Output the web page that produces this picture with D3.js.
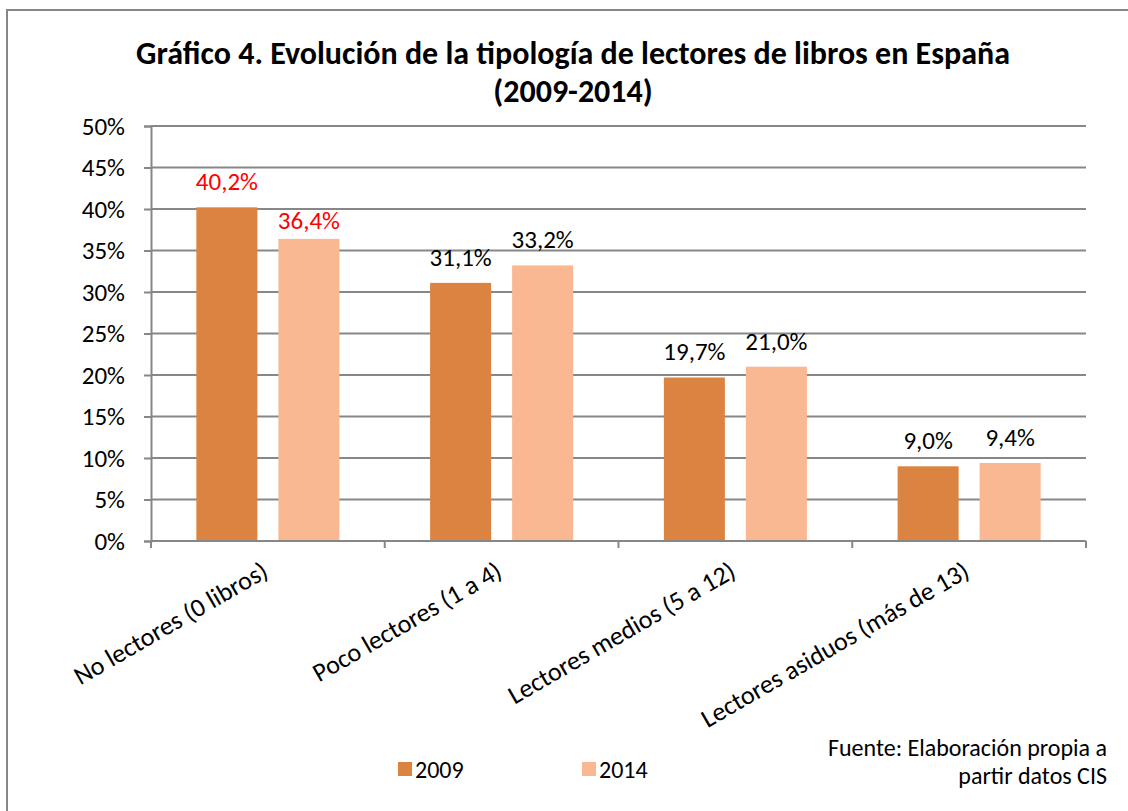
<!DOCTYPE html>
<html>
<head>
<meta charset="utf-8">
<script src="https://cdn.jsdelivr.net/npm/d3@7"></script>
<style>
  html, body { margin: 0; padding: 0; background: white; }
  svg { display: block; }
</style>
</head>
<body>
<div id="chart"></div>
<script>
// data
const categories = [
  "No lectores (0 libros)",
  "Poco lectores (1 a 4)",
  "Lectores medios (5 a 12)",
  "Lectores asiduos (más de 13)"
];
const years = ["2009", "2014"];
const values2009 = [40.2, 31.1, 19.7, 9.0];
const values2014 = [36.4, 33.2, 21.0, 9.4];
const yTicks = [0, 5, 10, 15, 20, 25, 30, 35, 40, 45, 50];
const titleLines = [
  "Gráfico 4. Evolución de la tipología de lectores de libros en España",
  "(2009-2014)"
];
const sourceLines = ["Fuente: Elaboración propia a", "partir datos CIS"];

const colours = { "2009": "#DB8441", "2014": "#F9B792" };
const grid = "#878787";
const font = "Carlito, Calibri, 'Liberation Sans Narrow', 'Open Sans', sans-serif";

const w = 1128, h = 811;
const m = { top: 126, right: 42, bottom: 270, left: 151 };

const data = categories.map((c, i) => ({
  cat: c,
  idx: i,
  vals: [
    { year: "2009", v: values2009[i] },
    { year: "2014", v: values2014[i] }
  ]
}));

const svg = d3.select("#chart")
  .append("svg")
  .attr("width", w)
  .attr("height", h)
  .attr("viewBox", [0, 0, w, h])
  .style("font-family", font);

// outer frame of the chart
svg.append("rect")
  .attr("x", 7).attr("y", 10)
  .attr("width", w + 20).attr("height", h + 20)
  .attr("fill", "white")
  .attr("stroke", grid)
  .attr("stroke-width", 2);

const x = d3.scaleBand()
  .domain(categories)
  .range([m.left, w - m.right]);

const xSub = d3.scaleBand()
  .domain(years)
  .range([0, x.bandwidth()])
  .paddingInner(0.256)
  .paddingOuter(0.553);

const y = d3.scaleLinear()
  .domain([0, 50])
  .range([h - m.bottom, m.top]);

// title
svg.append("g")
  .selectAll("text")
  .data(titleLines)
  .join("text")
  .attr("x", 573)
  .attr("y", (d, i) => 64 + i * 38)
  .attr("text-anchor", "middle")
  .attr("font-size", 32)
  .attr("font-weight", "bold")
  .attr("fill", "#000")
  .text(d => d);

// y axis with gridlines
const yAxis = svg.append("g")
  .attr("transform", `translate(${m.left},0)`)
  .call(d3.axisLeft(y)
    .tickValues(yTicks)
    .tickSize(7)
    .tickPadding(19)
    .tickFormat(d => d + "%"));
yAxis.select(".domain").attr("stroke", grid).attr("stroke-width", 2);
yAxis.selectAll(".tick line").attr("stroke", grid).attr("stroke-width", 2);
yAxis.selectAll(".tick text")
  .attr("font-size", 25)
  .attr("font-family", font)
  .attr("fill", "#000");

svg.append("g")
  .selectAll("line")
  .data(yTicks.filter(d => d > 0))
  .join("line")
  .attr("x1", m.left)
  .attr("x2", w - m.right)
  .attr("y1", d => y(d))
  .attr("y2", d => y(d))
  .attr("stroke", grid)
  .attr("stroke-width", 2);

// bars
const groups = svg.append("g")
  .selectAll("g")
  .data(data)
  .join("g")
  .attr("transform", d => `translate(${x(d.cat)},0)`);

groups.selectAll("rect")
  .data(d => d.vals)
  .join("rect")
  .attr("x", d => xSub(d.year))
  .attr("width", xSub.bandwidth())
  .attr("y", d => y(d.v))
  .attr("height", d => y(0) - y(d.v))
  .attr("fill", d => colours[d.year]);

// value labels (first category in red; 36,4% sits below the 40% line)
groups.each(function(g) {
  d3.select(this).selectAll("text")
    .data(g.vals)
    .join("text")
    .attr("x", d => xSub(d.year) + xSub.bandwidth() / 2)
    .attr("y", d => y(d.v) - (g.idx === 0 && d.year === "2014" ? 10 : 17))
    .attr("text-anchor", "middle")
    .attr("font-size", 25)
    .attr("fill", g.idx === 0 ? "#FF0000" : "#000")
    .text(d => d.v.toFixed(1).replace(".", ",") + "%");
});

// x axis
const xAxis = svg.append("g")
  .attr("transform", `translate(0,${y(0)})`);
xAxis.append("line")
  .attr("x1", m.left).attr("x2", w - m.right)
  .attr("stroke", grid).attr("stroke-width", 2);
xAxis.selectAll("line.tick")
  .data(categories.map(c => x(c)).concat([x.range()[1]]))
  .join("line")
  .attr("class", "tick")
  .attr("x1", d => d).attr("x2", d => d)
  .attr("y1", 0).attr("y2", 7)
  .attr("stroke", grid).attr("stroke-width", 2);
xAxis.selectAll("text")
  .data(categories)
  .join("text")
  .attr("transform", d => `translate(${x(d) + x.bandwidth() / 2 + 2},${35}) rotate(-30)`)
  .attr("text-anchor", "end")
  .attr("font-size", 26)
  .attr("fill", "#000")
  .text(d => d);

// legend
const legend = svg.append("g")
  .selectAll("g")
  .data(years)
  .join("g")
  .attr("transform", (d, i) => `translate(${398 + i * 184},762)`);
legend.append("rect")
  .attr("width", 14).attr("height", 14)
  .attr("fill", d => colours[d]);
legend.append("text")
  .attr("x", 17).attr("y", 16)
  .attr("font-size", 24)
  .attr("fill", "#000")
  .text(d => d);

// source note
svg.append("g")
  .selectAll("text")
  .data(sourceLines)
  .join("text")
  .attr("x", 1107)
  .attr("y", (d, i) => 756 + i * 28)
  .attr("text-anchor", "end")
  .attr("font-size", 24)
  .attr("fill", "#000")
  .text(d => d);
</script>
</body>
</html>
